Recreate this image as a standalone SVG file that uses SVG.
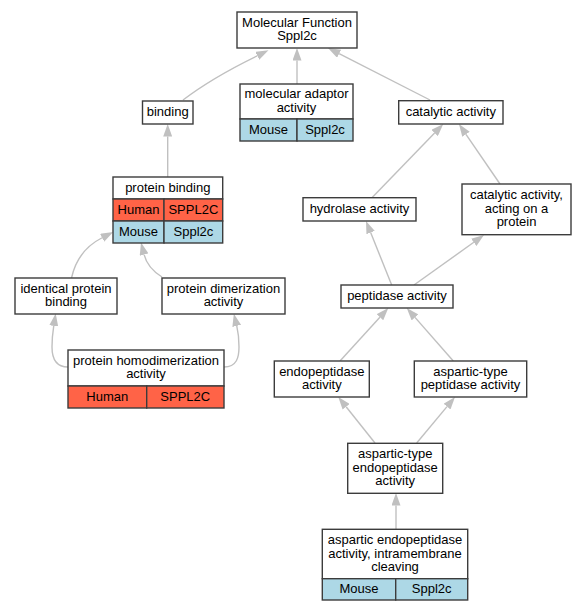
<svg xmlns="http://www.w3.org/2000/svg" width="585" height="611" viewBox="0 0 585 611">
<style>
text{font-family:"Liberation Sans",Arial,sans-serif;font-size:13px;fill:#000;text-anchor:middle}
.box{fill:#fff;stroke:#3c3c3c;stroke-width:1.4}
.h{fill:#ff6347;stroke:#3c3c3c;stroke-width:1.4}
.m{fill:#add8e6;stroke:#3c3c3c;stroke-width:1.4}
.e{fill:none;stroke:#c0c0c0;stroke-width:1.4}
</style>
<defs>
<marker id="a" viewBox="0 0 12.5 9" refX="0" refY="4.5" markerWidth="12.5" markerHeight="9" markerUnits="userSpaceOnUse" orient="auto">
<path d="M0,0 L12.5,4.5 L0,9 z" fill="#c0c0c0"/>
</marker>
</defs>
<rect width="585" height="611" fill="#fff"/>
<g id="edges">
<path class="e" marker-end="url(#a)" d="M183,100 C196,90 224,72 257.25,55.8"/>
<path class="e" marker-end="url(#a)" d="M297,84 L297,60.5"/>
<path class="e" marker-end="url(#a)" d="M430,100 L339.1,53.7"/>
<path class="e" marker-end="url(#a)" d="M167.7,177 L167.7,136.5"/>
<path class="e" marker-end="url(#a)" d="M371.7,198 L434.6,133"/>
<path class="e" marker-end="url(#a)" d="M500,184 L466,134.3"/>
<path class="e" marker-end="url(#a)" d="M391.7,285 L370.65,232.6"/>
<path class="e" marker-end="url(#a)" d="M414,285 L473.8,242.3"/>
<path class="e" marker-end="url(#a)" d="M71.5,278 C75,262 84,247 102.1,237.75"/>
<path class="e" marker-end="url(#a)" d="M162,277 C154,272 147,266 144.1,254.6"/>
<path class="e" marker-end="url(#a)" d="M68,367 C55,367 52,357 52,347 C52,339 52.8,332 53.75,325.9"/>
<path class="e" marker-end="url(#a)" d="M224,367 C237,367 239,357 239,347 C239,339 238.2,332 236.75,325.9"/>
<path class="e" marker-end="url(#a)" d="M340,361 L379.9,317.2"/>
<path class="e" marker-end="url(#a)" d="M453.3,361 L415,317.4"/>
<path class="e" marker-end="url(#a)" d="M375,443 L346.1,406.8"/>
<path class="e" marker-end="url(#a)" d="M416.7,443 L447,406.6"/>
<path class="e" marker-end="url(#a)" d="M396,529 L396,505.5"/>
</g>
<g id="mf">
<rect class="box" x="237" y="12" width="120" height="36"/>
<text x="297" y="26.5">Molecular Function</text>
<text x="297" y="40">Sppl2c</text>
</g>
<g id="binding">
<rect class="box" x="142.5" y="101" width="50.5" height="23"/>
<text x="167.7" y="116">binding</text>
</g>
<g id="adaptor">
<rect class="box" x="240" y="84" width="113" height="35"/>
<rect class="m" x="240" y="119" width="57" height="22"/>
<rect class="m" x="297" y="119" width="56" height="22"/>
<text x="296.5" y="98">molecular adaptor</text>
<text x="296.5" y="111.5">activity</text>
<text x="268.5" y="133.5">Mouse</text>
<text x="325" y="133.5">Sppl2c</text>
</g>
<g id="catalytic">
<rect class="box" x="398.7" y="100.7" width="104.3" height="23.3"/>
<text x="450.8" y="116">catalytic activity</text>
</g>
<g id="pbinding">
<rect class="box" x="113" y="177" width="109.7" height="22"/>
<rect class="h" x="113" y="199" width="51" height="22"/>
<rect class="h" x="164" y="199" width="58.7" height="22"/>
<rect class="m" x="113" y="221" width="51" height="22"/>
<rect class="m" x="164" y="221" width="58.7" height="22"/>
<text x="167.8" y="191.5">protein binding</text>
<text x="138.5" y="213.5">Human</text>
<text x="193.4" y="213.5">SPPL2C</text>
<text x="138.5" y="235.5">Mouse</text>
<text x="193.4" y="235.5">Sppl2c</text>
</g>
<g id="hydrolase">
<rect class="box" x="303" y="197.7" width="113" height="23.3"/>
<text x="359.5" y="213">hydrolase activity</text>
</g>
<g id="cap">
<rect class="box" x="462" y="184" width="109" height="50.7"/>
<text x="516.5" y="199.3">catalytic activity,</text>
<text x="516.5" y="212.8">acting on a</text>
<text x="516.5" y="226.3">protein</text>
</g>
<g id="identical">
<rect class="box" x="15" y="278" width="102" height="36"/>
<text x="66" y="292.5">identical protein</text>
<text x="66" y="306">binding</text>
</g>
<g id="dimer">
<rect class="box" x="162" y="278" width="123" height="36"/>
<text x="223.5" y="292.5">protein dimerization</text>
<text x="223.5" y="306">activity</text>
</g>
<g id="homodimer">
<rect class="box" x="68" y="350" width="156" height="36"/>
<rect class="h" x="68" y="386" width="78.7" height="22"/>
<rect class="h" x="146.7" y="386" width="77.3" height="22"/>
<text x="146" y="364.5">protein homodimerization</text>
<text x="146" y="378">activity</text>
<text x="107.3" y="400.5">Human</text>
<text x="185.3" y="400.5">SPPL2C</text>
</g>
<g id="peptidase">
<rect class="box" x="341" y="285" width="112" height="23"/>
<text x="397" y="300">peptidase activity</text>
</g>
<g id="endo">
<rect class="box" x="274.3" y="361" width="95" height="36"/>
<text x="321.8" y="375.5">endopeptidase</text>
<text x="321.8" y="389">activity</text>
</g>
<g id="asppept">
<rect class="box" x="414.3" y="361" width="112.4" height="36"/>
<text x="470.5" y="375.5">aspartic-type</text>
<text x="470.5" y="389">peptidase activity</text>
</g>
<g id="aspendo">
<rect class="box" x="347.7" y="443.3" width="95" height="50"/>
<text x="395.2" y="458.3">aspartic-type</text>
<text x="395.2" y="471.8">endopeptidase</text>
<text x="395.2" y="485.3">activity</text>
</g>
<g id="intra">
<rect class="box" x="322.3" y="529.3" width="145.4" height="49.4"/>
<rect class="m" x="322.3" y="578.7" width="73.4" height="21.3"/>
<rect class="m" x="395.7" y="578.7" width="72" height="21.3"/>
<text x="395" y="544">aspartic endopeptidase</text>
<text x="395" y="557.5">activity, intramembrane</text>
<text x="395" y="571">cleaving</text>
<text x="359" y="593">Mouse</text>
<text x="431.7" y="593">Sppl2c</text>
</g>
</svg>
